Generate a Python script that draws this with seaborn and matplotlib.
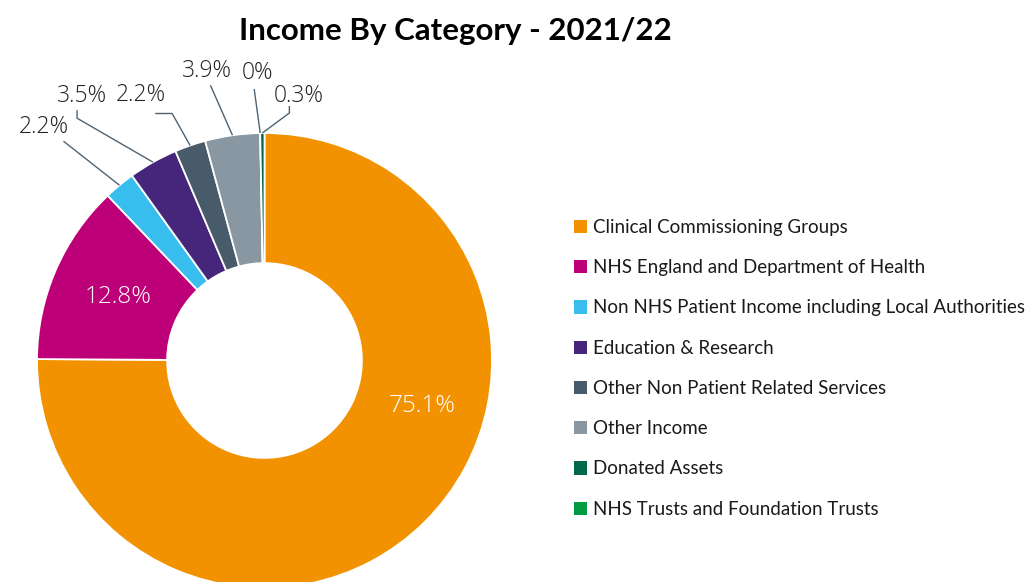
import numpy as np
import matplotlib
matplotlib.use("Agg")
import matplotlib.pyplot as plt
from matplotlib.patches import Patch
import seaborn as sns

# Income categories (legend order) and their share of income, in percent
categories = [
    "Clinical Commissioning Groups",
    "NHS England and Department of Health",
    "Non NHS Patient Income including Local Authorities",
    "Education & Research",
    "Other Non Patient Related Services",
    "Other Income",
    "Donated Assets",
    "NHS Trusts and Foundation Trusts",
]
shares = [75.1, 12.8, 2.2, 3.5, 2.2, 3.9, 0.3, 0.0]
colors = ["#F39200", "#BE0078", "#38BEEE", "#45267B",
          "#475B6B", "#8897A2", "#00674A", "#009B40"]

# order in which the wedges run clockwise from twelve o'clock
ring_order = [0, 1, 2, 3, 4, 5, 7, 6]

sns.set_theme(style="white")
plt.rcParams["font.family"] = ["Open Sans", "DejaVu Sans"]

W, H, DPI = 1034, 582, 100
fig = plt.figure(figsize=(W / DPI, H / DPI), dpi=DPI)

# donut geometry in pixels
cx, cy, R = 264.5, 360.5, 227.5
ax_w = 530
ax = fig.add_axes([0, 0, ax_w / W, 1])

vals = [shares[i] for i in ring_order]
cols = [colors[i] for i in ring_order]
wedges, _ = ax.pie(
    vals, colors=cols, startangle=90, counterclock=False,
    radius=1.0, wedgeprops=dict(width=0.572, edgecolor="white", linewidth=1.3),
)
ax.set_aspect("auto")
ax.set_xlim(-cx / R, (ax_w - cx) / R)
ax.set_ylim(-(H - cy) / R, cy / R)
ax.axis("off")

def px(dx, dy):
    """pixel offset (screen, y down) -> data units"""
    return dx / R, -dy / R

# mid angle of each wedge, measured clockwise from twelve o'clock
total = sum(vals)
cum = np.cumsum([0] + vals)
mid = {ring_order[k]: (cum[k] + cum[k + 1]) / 2 / total * 360 for k in range(len(vals))}

def polar(ang, r):
    a = np.deg2rad(ang)
    return r * np.sin(a), r * np.cos(a)

# labels drawn inside the ring
inside = {0: (106.0, 0.72), 1: (None, 0.70)}
for i, (ang, r) in inside.items():
    a = mid[i] if ang is None else ang
    x, y = polar(a, r)
    ax.text(x, y, f"{shares[i]:g}%", color="white", fontsize=17.5,
            fontweight="light", ha="center", va="center")

# labels outside with leader lines: text offset, knee offset, line end (pixels from anchor)
outside = {
    2: ((-76, -58), (-56, -44), (-56, -44)),
    3: ((-71, -66), (-76, -44), (-76, -52)),
    4: ((-49, -50), (-18, -32), (-35, -32)),
    5: ((-26, -64), (-22, -50), (-22, -50)),
    7: ((-3, -60), (-6, -44), (-6, -44)),
    6: ((36, -37), (27, -20), (27, -27)),
}
line_col = "#4F6272"
for i, (toff, knee, end) in outside.items():
    ax0, ay0 = polar(mid[i], 1.0)
    kx, ky = px(*knee)
    ex, ey = px(*end)
    ax.plot([ax0, ax0 + kx, ax0 + ex], [ay0, ay0 + ky, ay0 + ey],
            color=line_col, lw=1.0, solid_capstyle="butt", clip_on=False)
    tx, ty = px(*toff)
    ax.text(ax0 + tx, ay0 + ty, f"{shares[i]:g}%", color="#222222",
            fontsize=16.5, fontweight="light", ha="center", va="center")

# title
fig.text(455 / W, 1 - 31 / H, "Income By Category - 2021/22",
         ha="center", va="center", fontsize=22.5, fontweight="bold",
         family=["Lato", "DejaVu Sans"], color="black")

# legend
handles = [Patch(facecolor=c, edgecolor="none") for c in colors]
leg = fig.legend(
    handles, categories, loc="upper left",
    bbox_to_anchor=(574 / W, 1 - 219 / H), frameon=False,
    prop=dict(family=["Lato", "DejaVu Sans"], size=13.5),
    handlelength=0.7, handleheight=0.7, handletextpad=0.3,
    labelspacing=1.24, borderpad=0, borderaxespad=0,
)
for t in leg.get_texts():
    t.set_color("#1a1a1a")

fig.savefig("out.png", dpi=DPI)
